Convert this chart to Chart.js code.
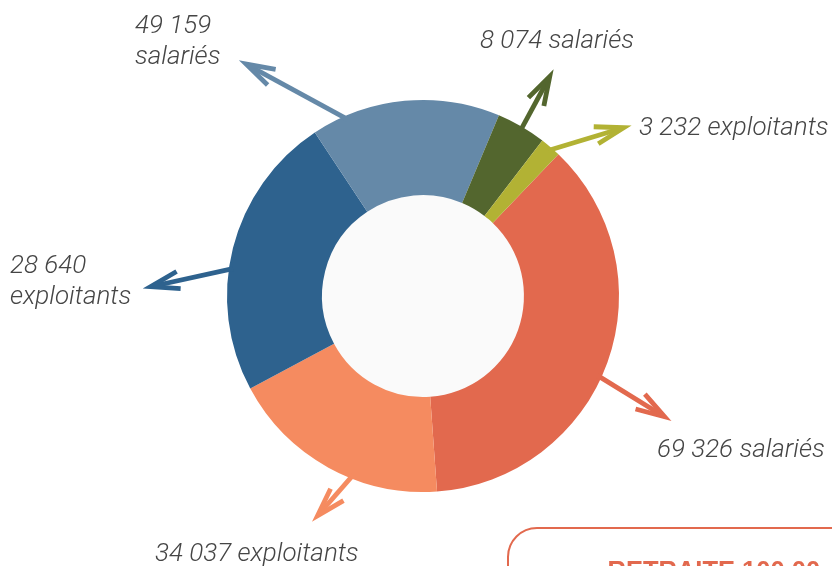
<!DOCTYPE html>
<html>
<head>
<meta charset="utf-8">
<script src="https://cdn.jsdelivr.net/npm/chart.js@4.4.1/dist/chart.umd.min.js"></script>
<style>
  html, body { margin: 0; padding: 0; background: #ffffff; overflow: hidden; }
  canvas { display: block; }
</style>
</head>
<body>
<canvas id="c" width="832" height="566"></canvas>
<script>
// ---- data ----
const counts = [69326, 34037, 28640, 49159, 8074, 3232];
const categories = ['salariés', 'exploitants', 'exploitants', 'salariés', 'salariés', 'exploitants'];
// angular size of each slice as drawn in the reference (degrees)
const sliceDegrees = [132.2, 65.9, 84.7, 56.3, 14.7, 6.2];
const boxTitle = 'RETRAITE 100 00';

// ---- styles / layout ----
const colors = ['#E2694E', '#F58B60', '#2E628E', '#6589A8', '#53662E', '#B2B234'];
const arrowLayout = [
  { anchor: 114.5, dir: 122.0, len: 82,  dx: -14,    dy: 36,   twoLines: false },
  { anchor: 201.3, dir: 222.7, len: 58,  dx: -157.5, dy: 39.4, twoLines: false },
  { anchor: 278.2, dir: 256.6, len: 88,  dx: -133.4, dy: -15.4, twoLines: true },
  { anchor: 336.9, dir: 297.3, len: 120, dx: -104.5, dy: -28,  twoLines: true },
  { anchor: 30.5,  dir: 28.3,  len: 65,  dx: -73.3,  dy: -22,  twoLines: false },
  { anchor: 40.7,  dir: 74.9,  len: 83,  dx: 8,      dy: 9.2,  twoLines: false }
];
const LABEL_FONT = 'italic 300 26px Roboto, "Liberation Sans", sans-serif';
const LINE_GAP = 31;

function fmt(n) { return String(n).replace(/\B(?=(\d{3})+(?!\d))/g, ' '); }
function vec(deg) { const r = deg * Math.PI / 180; return [Math.sin(r), -Math.cos(r)]; }

const holePlugin = {
  id: 'hole',
  beforeDatasetsDraw(chart) {
    const arc = chart.getDatasetMeta(0).data[0];
    if (!arc) return;
    const ctx = chart.ctx;
    ctx.save();
    ctx.beginPath();
    ctx.arc(arc.x, arc.y, arc.innerRadius + 0.5, 0, Math.PI * 2);
    ctx.fillStyle = '#FAFAFA';
    ctx.fill();
    ctx.restore();
  }
};

const arrowPlugin = {
  id: 'arrows',
  afterDatasetsDraw(chart) {
    const meta = chart.getDatasetMeta(0);
    const ctx = chart.ctx;
    meta.data.forEach((arc, i) => {
      const L = arrowLayout[i];
      const cx = arc.x, cy = arc.y, R = arc.outerRadius;
      const a = vec(L.anchor), d = vec(L.dir);
      const edge = [cx + R * a[0], cy + R * a[1]];
      const start = [cx + (R - 4) * a[0], cy + (R - 4) * a[1]];
      const tip = [edge[0] + L.len * d[0], edge[1] + L.len * d[1]];
      const vtx = [tip[0] - 7.5 * d[0], tip[1] - 7.5 * d[1]];
      const back = Math.atan2(-d[1], -d[0]);
      const spread = 17 * Math.PI / 180, armLen = 30;
      const a1 = [vtx[0] + armLen * Math.cos(back + spread), vtx[1] + armLen * Math.sin(back + spread)];
      const a2 = [vtx[0] + armLen * Math.cos(back - spread), vtx[1] + armLen * Math.sin(back - spread)];
      ctx.save();
      ctx.strokeStyle = colors[i];
      ctx.lineWidth = 4.8;
      ctx.lineCap = 'butt';
      ctx.lineJoin = 'miter';
      ctx.miterLimit = 10;
      ctx.beginPath();
      ctx.moveTo(start[0], start[1]);
      ctx.lineTo(vtx[0] - 2 * d[0], vtx[1] - 2 * d[1]);
      ctx.stroke();
      ctx.beginPath();
      ctx.moveTo(a1[0], a1[1]);
      ctx.lineTo(vtx[0], vtx[1]);
      ctx.lineTo(a2[0], a2[1]);
      ctx.stroke();

      // label
      ctx.font = LABEL_FONT;
      ctx.fillStyle = '#454545';
      ctx.textAlign = 'left';
      ctx.textBaseline = 'alphabetic';
      const x = tip[0] + L.dx, y = tip[1] + L.dy;
      if (L.twoLines) {
        ctx.fillText(fmt(counts[i]), x, y);
        ctx.fillText(categories[i], x, y + LINE_GAP);
      } else {
        ctx.fillText(fmt(counts[i]) + ' ' + categories[i], x, y);
      }
      ctx.restore();
    });
  },
  afterDraw(chart) {
    const ctx = chart.ctx;
    ctx.save();
    // outlined box in the lower right corner
    const x = 508, y = 528, w = 400, h = 120, r = 29;
    ctx.beginPath();
    ctx.moveTo(x + r, y);
    ctx.lineTo(x + w, y);
    ctx.lineTo(x + w, y + h);
    ctx.lineTo(x, y + h);
    ctx.lineTo(x, y + r);
    ctx.arcTo(x, y, x + r, y, r);
    ctx.closePath();
    ctx.strokeStyle = '#E2694E';
    ctx.lineWidth = 2;
    ctx.stroke();
    ctx.font = 'bold 25.5px "Liberation Sans", Arial, sans-serif';
    ctx.fillStyle = '#E2694E';
    ctx.textAlign = 'left';
    ctx.textBaseline = 'alphabetic';
    ctx.fillText(boxTitle, 607.5, 579);
    ctx.restore();
  }
};

new Chart(document.getElementById('c'), {
  type: 'doughnut',
  data: {
    labels: counts.map((n, i) => fmt(n) + ' ' + categories[i]),
    datasets: [{
      data: sliceDegrees,
      backgroundColor: colors,
      borderWidth: 0,
      hoverOffset: 0
    }]
  },
  options: {
    responsive: false,
    devicePixelRatio: 1,
    animation: false,
    rotation: 43.7,
    cutout: '51.5%',
    layout: { padding: { left: 227, right: 213, top: 100, bottom: 74 } },
    plugins: { legend: { display: false }, tooltip: { enabled: false } },
    events: []
  },
  plugins: [holePlugin, arrowPlugin]
});
</script>
</body>
</html>
